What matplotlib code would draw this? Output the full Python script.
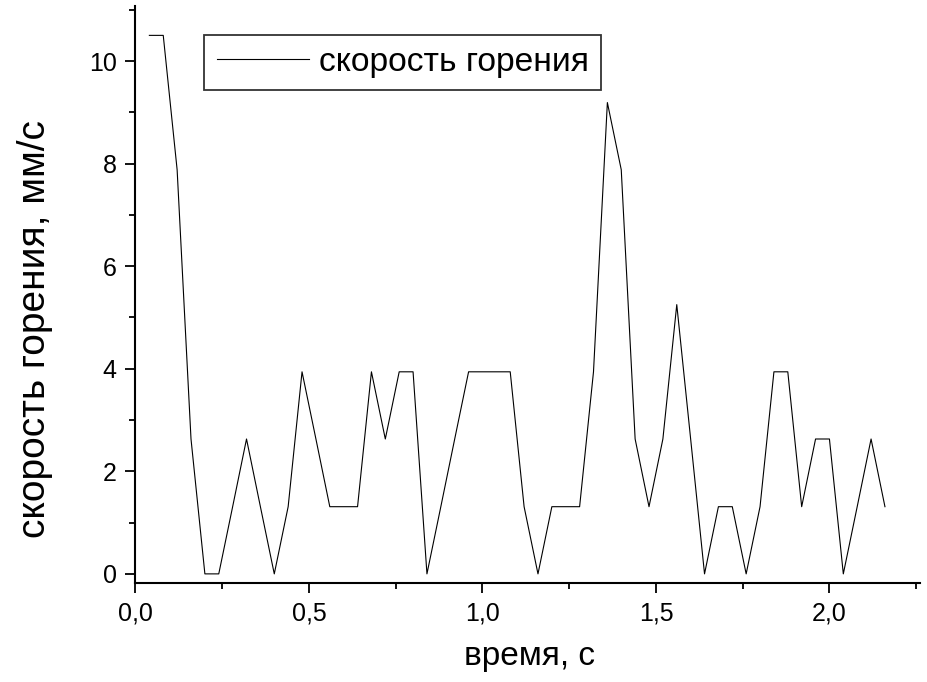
import matplotlib
matplotlib.use("Agg")
import matplotlib.pyplot as plt
from matplotlib.ticker import MultipleLocator, FuncFormatter

plt.rcParams['font.family'] = ['Liberation Sans', 'DejaVu Sans']

# burning rate sampled every 0.04 s
time_s = [0.04, 0.08, 0.12, 0.16, 0.20, 0.24, 0.28, 0.32, 0.36, 0.40,
          0.44, 0.48, 0.52, 0.56, 0.60, 0.64, 0.68, 0.72, 0.76, 0.80,
          0.84, 0.88, 0.92, 0.96, 1.00, 1.04, 1.08, 1.12, 1.16, 1.20,
          1.24, 1.28, 1.32, 1.36, 1.40, 1.44, 1.48, 1.52, 1.56, 1.60,
          1.64, 1.68, 1.72, 1.76, 1.80, 1.84, 1.88, 1.92, 1.96, 2.00,
          2.04, 2.08, 2.12, 2.16]
rate_mm_s = [10.5, 10.5, 7.88, 2.63, 0.0, 0.0, 1.31, 2.63, 1.31, 0.0,
             1.31, 3.94, 2.63, 1.31, 1.31, 1.31, 3.94, 2.63, 3.94, 3.94,
             0.0, 1.31, 2.63, 3.94, 3.94, 3.94, 3.94, 1.31, 0.0, 1.31,
             1.31, 1.31, 3.94, 9.19, 7.88, 2.63, 1.31, 2.63, 5.25, 2.63,
             0.0, 1.31, 1.31, 0.0, 1.31, 3.94, 3.94, 1.31, 2.63, 2.63,
             0.0, 1.31, 2.63, 1.31]

fig = plt.figure(figsize=(9.28, 6.82), dpi=100)
ax = fig.add_axes([0.146, 0.145, 0.845, 0.846])

ax.plot(time_s, rate_mm_s, color='black', lw=0.8, label='скорость горения')

ax.set_xlim(0, 2.26)
ax.set_ylim(-0.18, 11.07)

ax.xaxis.set_major_locator(MultipleLocator(0.5))
ax.xaxis.set_minor_locator(MultipleLocator(0.25))
ax.yaxis.set_major_locator(MultipleLocator(2))
ax.yaxis.set_minor_locator(MultipleLocator(1))
ax.xaxis.set_major_formatter(FuncFormatter(lambda v, p: f'{v:.1f}'.replace('.', ',')))
ax.yaxis.set_major_formatter(FuncFormatter(lambda v, p: f'{v:.0f}'))

for side in ['top', 'right']:
    ax.spines[side].set_visible(False)
for side in ['left', 'bottom']:
    ax.spines[side].set_linewidth(1.5)

ax.tick_params(which='major', direction='out', length=7.5, width=1.3,
               labelsize=18, pad=6)
ax.tick_params(which='minor', direction='out', length=4.5, width=1.3)

ax.set_xlabel('время, с', fontsize=24)
ax.set_ylabel('скорость горения, мм/с', fontsize=28)
ax.xaxis.set_label_coords(0.502, -0.1)
ax.yaxis.set_label_coords(-0.105, 0.44)

leg = ax.legend(loc='upper left', bbox_to_anchor=(0.088, 0.95), fontsize=24.2,
                frameon=True, fancybox=False, handlelength=2.75,
                borderpad=0.36, handletextpad=0.3, borderaxespad=0)
leg.get_frame().set_edgecolor('black')
leg.get_frame().set_linewidth(1.3)

fig.savefig('out.png', dpi=100)
